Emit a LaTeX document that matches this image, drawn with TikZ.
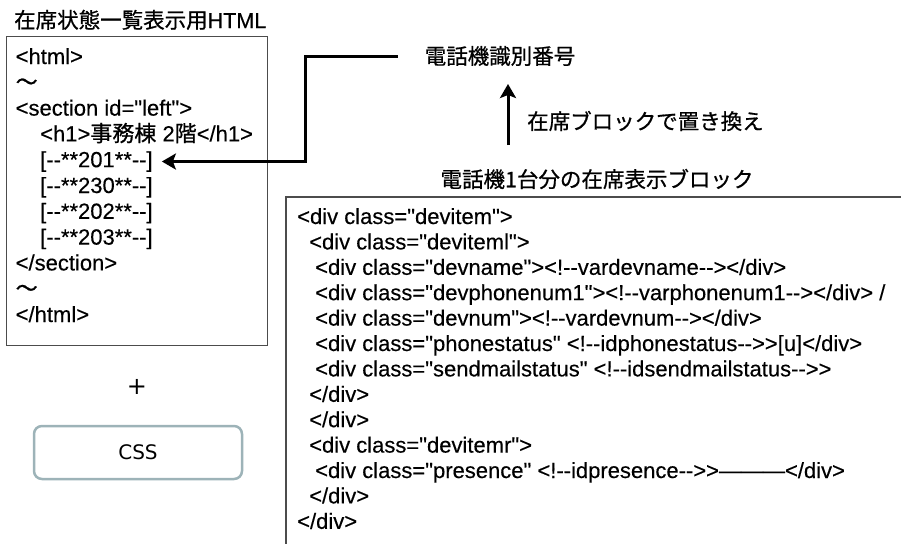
\documentclass[tikz,border=0pt]{standalone}
\usepackage{fontspec}
\newfontfamily\lat{Liberation Sans}[FakeBold=0.3]
\newfontfamily\jp{Noto Sans CJK JP}[FakeBold=0.8]
\newfontfamily\dv{DejaVu Sans}
\usetikzlibrary{arrows.meta}
\definecolor{cssc}{HTML}{9DB3B8}
\begin{document}
\begin{tikzpicture}[x=1pt,y=-1pt,
  txt/.style={anchor=base west, inner sep=0pt, font=\lat\fontsize{22}{26}\selectfont},
  jtxt/.style={inner sep=0pt, font=\jp\fontsize{21.5}{26}\selectfont},
  frame/.style={draw=black!70, line width=1.3pt},
  conn/.style={line width=3pt, line join=miter, -{Stealth[length=14pt,width=16pt,inset=3pt]}}]
\useasboundingbox (0,0) rectangle (901,544);

% left block
\node[jtxt, anchor=base west] (title) at (14,28) {在席状態一覧表示用{\lat HTML}};
\node[frame, anchor=north west, minimum width=261pt, minimum height=309pt, inner sep=0pt] (lbox) at (6,36) {};
\node[txt] (l1) at (15.5,64) {<html>};
\node[txt] (l2) at (15.5,89.8) {{\jp ～}};
\node[txt] (l3) at (15.5,115.6) {<section id="left">};
\node[txt] (l4) at (40,141.4) {<h1>{\jp 事務棟} 2{\jp 階}</h1>};
\node[txt] (l5) at (40,167.2) {[--**201**--]};
\node[txt] (l6) at (40,193) {[--**230**--]};
\node[txt] (l7) at (40,218.8) {[--**202**--]};
\node[txt] (l8) at (40,244.6) {[--**203**--]};
\node[txt] (l9) at (15.5,270.4) {</section>};
\node[txt] (l10) at (15.5,296.2) {{\jp ～}};
\node[txt] (l11) at (15.5,322) {</html>};

\node[font=\dv\fontsize{24}{24}\selectfont, inner sep=0pt] (plus) at (137,387) {+};
\node[draw=cssc, line width=2.5pt, rounded corners=8pt, minimum width=208pt, minimum height=53pt,
      font=\dv\fontsize{20}{20}\selectfont] (css) at (138,452.5) {CSS};

% top right
\node[jtxt] (num) at (500,56) {電話機識別番号};
\node[jtxt, anchor=west] (rep) at (527,121) {在席ブロックで置き換え};
\node[jtxt] (blk) at (597,179) {電話機1台分の在席表示ブロック};

% right block
\coordinate (rb1) at (901,197);
\coordinate (rb2) at (286,197);
\coordinate (rb3) at (286,544);
\draw[frame] (rb1) -- (rb2) -- (rb3);
\node[txt] (r1) at (297,224) {<div class="devitem">};
\node[txt] (r2) at (309,249.4) {<div class="deviteml">};
\node[txt] (r3) at (315,274.8) {<div class="devname"><!--vardevname--></div>};
\node[txt] (r4) at (315,300.2) {<div class="devphonenum1"><!--varphonenum1--></div> /};
\node[txt] (r5) at (315,325.6) {<div class="devnum"><!--vardevnum--></div>};
\node[txt] (r6) at (315,351) {<div class="phonestatus" <!--idphonestatus-->>[u]</div>};
\node[txt] (r7) at (315,376.4) {<div class="sendmailstatus" <!--idsendmailstatus-->>};
\node[txt] (r8) at (309,401.8) {</div>};
\node[txt] (r9) at (309,427.2) {</div>};
\node[txt] (r10) at (309,452.6) {<div class="devitemr">};
\node[txt] (r11) at (315,478) {<div class="presence" <!--idpresence-->>———</div>};
\node[txt] (r12) at (309,503.4) {</div>};
\node[txt] (r13) at (297,528.8) {</div>};

% connectors
\coordinate (bx) at (305,0);
\draw[conn] ([xshift=-27pt]num.west) -- (num.west -| bx) |- ([xshift=9pt]l5.east);
\coordinate (v1) at (508,145);
\coordinate (v2) at (508,84);
\draw[conn] (v1) -- (v2);
\end{tikzpicture}
\end{document}
